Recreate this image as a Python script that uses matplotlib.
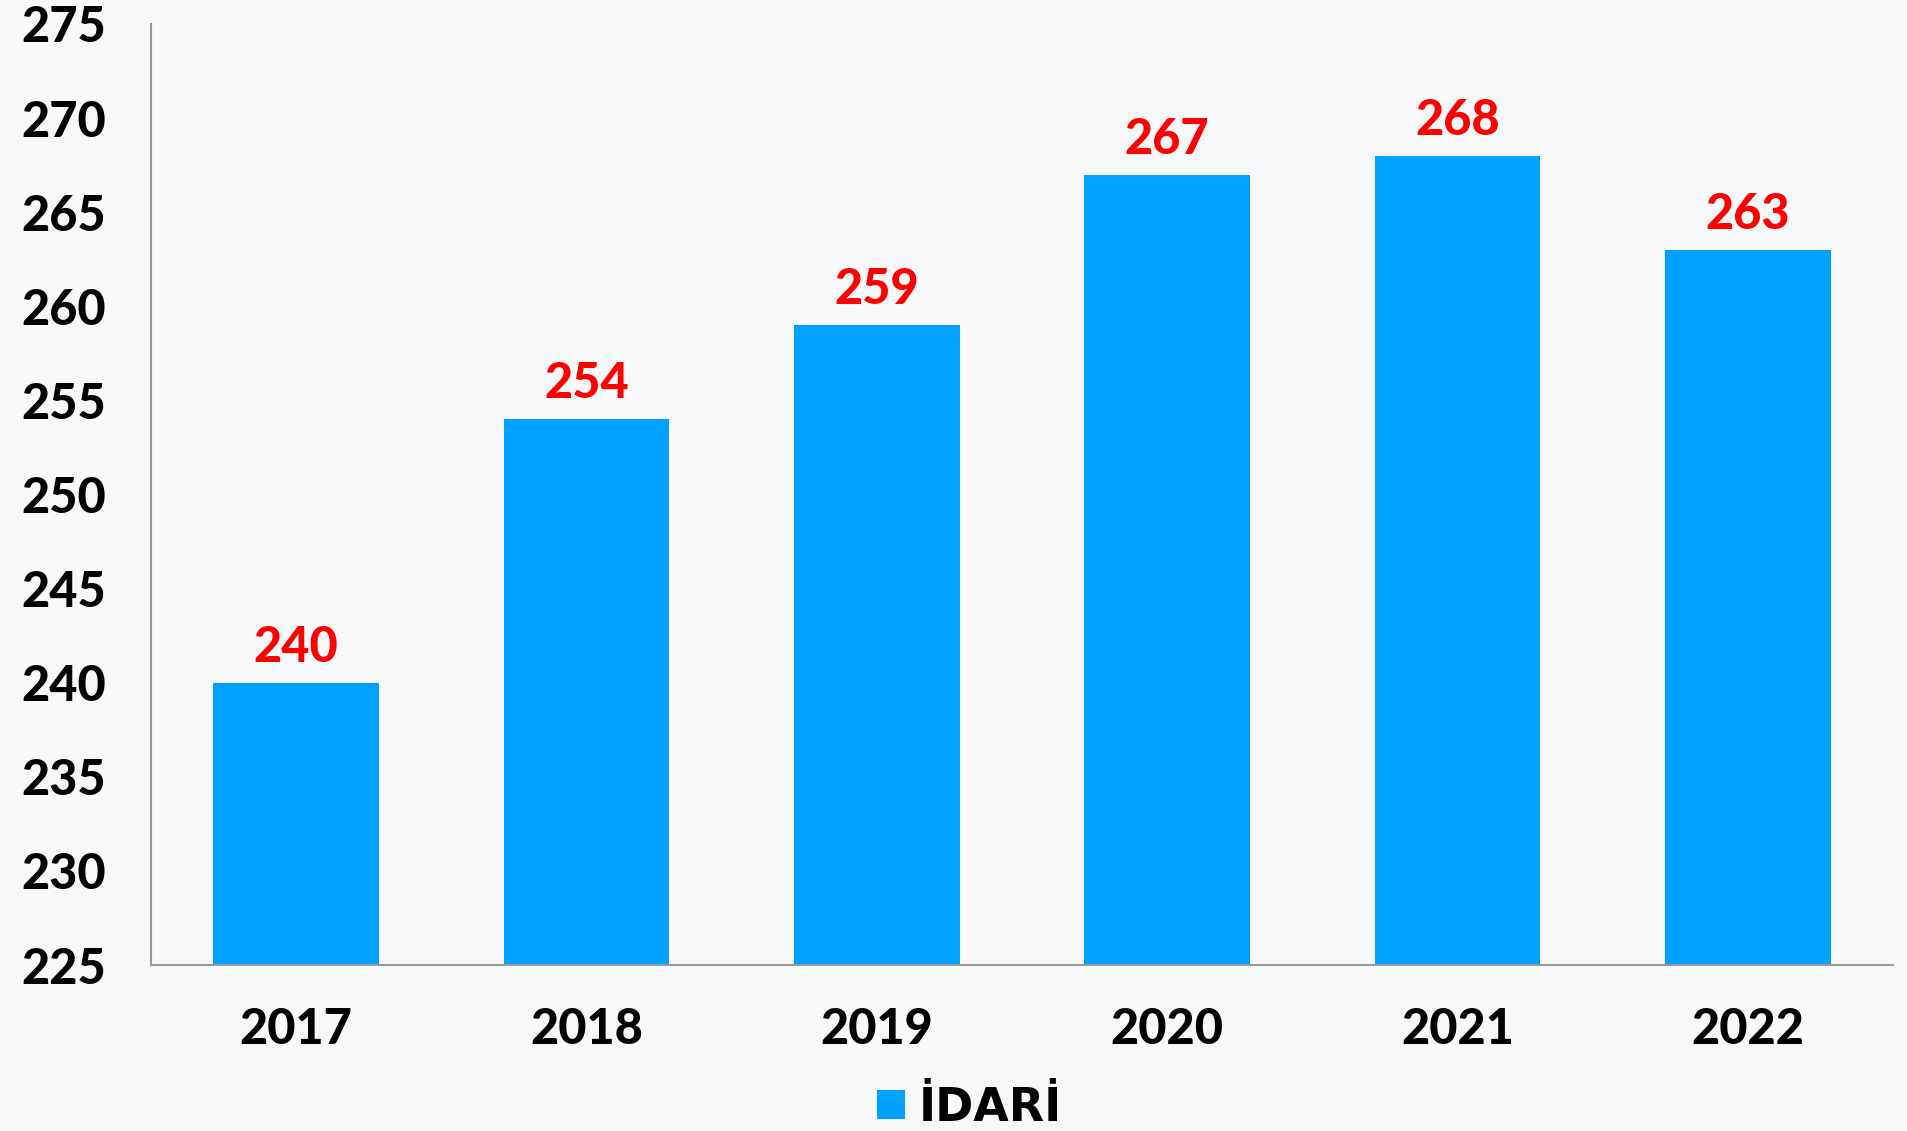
import matplotlib

matplotlib.use("Agg")
import matplotlib.pyplot as plt
import numpy as np
from matplotlib.patches import Patch

years = ["2017", "2018", "2019", "2020", "2021", "2022"]
idari = [240, 254, 259, 267, 268, 263]
y_ticks = [225, 230, 235, 240, 245, 250, 255, 260, 265, 270, 275]

BG = "#F8F9FB"
BAR = "#00A2FF"
RED = "#FF0000"
SPINE = "#9A9A9A"

plt.rcParams.update({"font.family": ["Lato", "DejaVu Sans"], "font.weight": 900})

fig = plt.figure(figsize=(19.08, 11.31), dpi=100, facecolor=BG)
ax = fig.add_axes([0.0791, 0.1467, 0.9130, 0.8321])
ax.set_facecolor(BG)

x = np.arange(len(years))
bars = ax.bar(x, idari, width=0.57, color=BAR, zorder=2)

for xi, v in zip(x, idari):
    ax.annotate(str(v), (xi, v), xytext=(0, 15), textcoords="offset points",
                ha="center", va="baseline", color=RED, fontsize=35, fontweight=900)

ax.set_xlim(-0.5, len(years) - 0.5)
ax.set_ylim(225, 275)
ax.set_yticks(y_ticks)
ax.set_yticklabels([str(t) for t in y_ticks])
ax.set_xticks(x)
ax.set_xticklabels(years)
ax.tick_params(axis="y", length=0, pad=32, labelsize=35)
ax.tick_params(axis="x", length=0, pad=30, labelsize=35)
for lab in ax.get_xticklabels() + ax.get_yticklabels():
    lab.set_fontweight(900)

for side in ("top", "right"):
    ax.spines[side].set_visible(False)
for side in ("left", "bottom"):
    ax.spines[side].set_color(SPINE)
    ax.spines[side].set_linewidth(1.5)

handle = Patch(facecolor=BAR, edgecolor="none")
fig.legend([handle], ["İDARİ"], loc="lower center", bbox_to_anchor=(0.508, -0.016),
           frameon=False, prop={"family": ["DejaVu Sans"], "weight": "bold", "size": 33},
           handlelength=0.6, handleheight=0.6, handletextpad=0.3, borderaxespad=0)

fig.savefig("out.png", dpi=100, facecolor=BG)
